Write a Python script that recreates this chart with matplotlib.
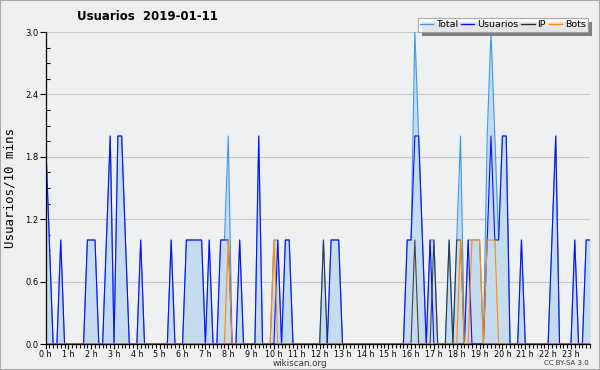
import numpy as np
import matplotlib
matplotlib.use("Agg")
import matplotlib.pyplot as plt
from matplotlib.lines import Line2D
from matplotlib.patches import Rectangle

# ======================
# DATA (10-minute slots, 2019-01-11)
# ======================
N_SLOTS = 144
HOURS = list(range(24))
HOUR_LABELS = [f"{h} h" for h in HOURS]
Y_TICKS = [0.0, 0.6, 1.2, 1.8, 2.4, 3.0]

# non-zero slots only: slot index -> value
usuarios_pts = {0: 2, 1: 1, 4: 1, 11: 1, 12: 1, 13: 1, 16: 1, 17: 2, 19: 2, 20: 2,
                21: 1, 25: 1, 33: 1, 37: 1, 38: 1, 39: 1, 40: 1, 41: 1, 43: 1,
                46: 1, 47: 1, 48: 1, 51: 1, 56: 2, 61: 1, 63: 1, 64: 1, 75: 1,
                76: 1, 77: 1, 95: 1, 96: 1, 97: 2, 98: 2, 99: 1, 101: 1, 111: 1,
                116: 1, 117: 2, 118: 1, 119: 1, 120: 2, 121: 2, 125: 1, 133: 1,
                134: 2, 139: 1, 142: 1, 143: 1}
ip_pts = {73: 1, 97: 1, 102: 1, 106: 1, 108: 1, 109: 1}
bots_pts = {48: 1, 60: 1, 109: 1, 112: 1, 113: 1, 114: 1, 116: 1, 117: 1, 118: 1}
total_pts = {0: 2, 1: 1, 4: 1, 11: 1, 12: 1, 13: 1, 16: 1, 17: 2, 19: 2, 20: 2,
             21: 1, 25: 1, 33: 1, 37: 1, 38: 1, 39: 1, 40: 1, 41: 1, 43: 1,
             46: 1, 47: 1, 48: 2, 51: 1, 56: 2, 60: 1, 61: 1, 63: 1, 64: 1,
             73: 1, 75: 1, 76: 1, 77: 1, 95: 1, 96: 1, 97: 3, 98: 2, 99: 1,
             101: 1, 102: 1, 106: 1, 108: 1, 109: 2, 111: 1, 112: 1, 113: 1,
             114: 1, 116: 2, 117: 3, 118: 2, 119: 1, 120: 2, 121: 2, 125: 1,
             133: 1, 134: 2, 139: 1, 142: 1, 143: 1}


def expand(pts):
    arr = np.zeros(N_SLOTS)
    for k, v in pts.items():
        arr[k] = v
    return arr


slots = np.arange(N_SLOTS)
total = expand(total_pts)
usuarios = expand(usuarios_pts)
ip = expand(ip_pts)
bots = expand(bots_pts)

# ======================
# STYLE
# ======================
BG = "#EFEFEF"
C_TOTAL = "#3D9BEA"
C_FILL = "#C5DCF0"
C_USER = "#1010FF"
C_IP = "#2A2A2A"
C_BOTS = "#FF8C00"
LW = 0.8

plt.rcParams["font.family"] = ["DejaVu Sans"]

fig = plt.figure(figsize=(6.0, 3.7), dpi=100, facecolor=BG)
ax = fig.add_axes([45.5 / 600, 26 / 370, 544.5 / 600, 312 / 370])
ax.set_facecolor("#EEF0F2")

# ======================
# PLOT
# ======================
ax.fill_between(slots, total, 0, color=C_FILL, lw=0, zorder=1)
ax.plot(slots, total, color=C_TOTAL, lw=LW, zorder=3, label="Total")
ax.plot(slots, usuarios, color=C_USER, lw=LW, zorder=4, label="Usuarios")
ax.plot(slots, ip, color=C_IP, lw=LW, alpha=0.85, zorder=5, label="IP")
ax.plot(slots, bots, color=C_BOTS, lw=LW, zorder=6, label="Bots")

ax.set_xlim(0, N_SLOTS - 1)
ax.set_ylim(0, 3.0)

ax.set_yticks(Y_TICKS)
ax.set_yticklabels([f"{v:.1f}" for v in Y_TICKS], fontsize=6)
ax.set_yticks(np.arange(0, 3.01, 0.15), minor=True)
ax.set_xticks([h * 6 for h in HOURS])
ax.set_xticklabels(HOUR_LABELS, fontsize=5.8)
ax.set_xticks(slots, minor=True)

ax.tick_params(axis="y", which="major", direction="out", length=4, width=0.8, pad=1)
ax.tick_params(axis="y", which="minor", direction="in", length=3, width=0.8)
ax.tick_params(axis="x", which="major", direction="out", length=3.5, width=0.8, pad=0.5)
ax.tick_params(axis="x", which="minor", direction="out", length=3, width=0.8)

ax.grid(axis="y", which="major", color="#C8C8C8", lw=0.8, zorder=0)
ax.set_axisbelow(True)
for s in ["top", "right"]:
    ax.spines[s].set_visible(False)
for s in ["left", "bottom"]:
    ax.spines[s].set_color("black")
    ax.spines[s].set_linewidth(0.9)
    ax.spines[s].set_zorder(10)

ax.set_ylabel("Usuarios/10 mins", fontsize=9, family="DejaVu Sans Mono", labelpad=6)

# ======================
# TEXTS
# ======================
fig.text(147 / 600, 1 - 17 / 370, "Usuarios  2019-01-11", fontsize=8.5,
         fontweight="bold", ha="center", va="center")
fig.text(300 / 600, 1 - 363 / 370, "wikiscan.org", fontsize=6.3,
         ha="center", va="center", color="#333333")
fig.text(589 / 600, 1 - 363 / 370, "CC BY-SA 3.0", fontsize=5,
         ha="right", va="center", color="#333333")

# ======================
# LEGEND
# ======================
handles = [Line2D([], [], color=c, lw=1) for c in (C_TOTAL, C_USER, C_IP, C_BOTS)]
leg = fig.legend(handles, ["Total", "Usuarios", "IP", "Bots"], ncol=4,
                 loc="upper right", bbox_to_anchor=(588 / 600, 1 - 18 / 370),
                 fontsize=6.8, frameon=True, fancybox=False, shadow=False,
                 handlelength=1.4, handletextpad=0.3, columnspacing=0.3,
                 borderpad=0.25, borderaxespad=0)
leg.get_frame().set_edgecolor("#999999")
leg.get_frame().set_linewidth(0.8)
leg.get_frame().set_facecolor("white")

# legend shadow drawn by hand
fig.canvas.draw()
bb = leg.get_window_extent().transformed(fig.transFigure.inverted())
shadow = Rectangle((bb.x0 + 4 / 600, bb.y0 - 4 / 370), bb.width, bb.height,
                   transform=fig.transFigure, facecolor="#808080",
                   edgecolor="none", zorder=leg.get_zorder() - 1)
fig.patches.append(shadow)

# figure border
fig.patches.append(Rectangle((0, 0), 1, 1, transform=fig.transFigure,
                             fill=False, edgecolor="#AAAAAA", lw=1.5))

fig.savefig("out.png", dpi=100, facecolor=BG)
